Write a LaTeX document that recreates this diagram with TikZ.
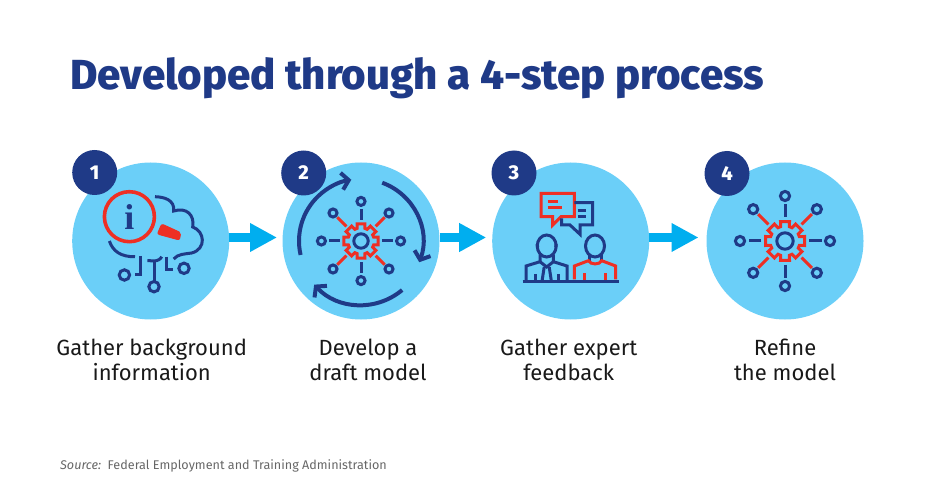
\documentclass[tikz,border=0pt]{standalone}
\usepackage{fontspec}
\setmainfont{Fira Sans}
\newfontfamily\serifi{Liberation Serif}
\newfontfamily\heavyface{Fira Sans ExtraBold}
\usetikzlibrary{positioning,arrows.meta}
\definecolor{navy}{HTML}{1F3A87}
\definecolor{skyfill}{HTML}{6BCFF8}
\definecolor{flowblue}{HTML}{00AEEF}
\definecolor{alertred}{HTML}{EE2F24}
\definecolor{srcgray}{HTML}{666666}
\tikzset{
  stepdisc/.style={circle,fill=skyfill,minimum size=157pt,inner sep=0pt,outer sep=0pt},
  badge/.style={circle,fill=navy,text=white,minimum size=45pt,inner sep=0pt,font=\heavyface\fontsize{20}{20}\selectfont},
  caption/.style={align=center,inner sep=0pt,text=black!90,font=\fontsize{22}{25}\selectfont},
  flow/.style={draw=flowblue,line width=9.5pt,-{Triangle[length=27pt,width=27pt]}},
  navyline/.style={draw=navy,line width=3pt},
  redline/.style={draw=alertred,line width=3pt},
  pics/gearnet/.style={code={
    \foreach \a in {0,90,180,270} {
      \draw[navyline] (\a:24) -- (\a:36.5);
      \draw[navyline] (\a:45) circle (4.6);
      \draw[redline] (\a+45:23.5) -- (\a+45:38);
      \draw[navyline] (\a+45:45) circle (4.6);
    }
    \draw[navyline] (0,0) circle (8.2);
    \draw[redline,line join=miter] (-13:20) foreach \a in {0,45,...,315} {-- (\a-13:20) -- (\a+13:20) -- (\a+17:15) -- (\a+28:15)} -- cycle;
  }},
  pics/cyclearrows/.style={code={
    \draw[draw=navy,line width=4pt,-{Straight Barb[length=7pt,width=17pt]}] (193:62) arc[start angle=193,end angle=99,radius=62];
    \draw[draw=navy,line width=4pt,-{Straight Barb[length=7pt,width=17pt]}] (70:62) arc[start angle=70,end angle=-20,radius=62];
    \draw[draw=navy,line width=4pt,-{Straight Barb[length=7pt,width=17pt]}] (-50:64) arc[start angle=-50,end angle=-137,radius=64];
  }},
  pics/lookupicon/.style={code={
    \draw[navyline] (4.3,44.3) .. controls (14,44) and (24,41) .. (23,30)
      .. controls (36,34) and (44,26) .. (42,14)
      .. controls (54,10) and (56,-8) .. (41,-12) .. controls (34,-13) and (27,-13) .. (23,-18);
    \draw[navyline] (-41.3,0) .. controls (-38,-10) and (-30,-16) .. (-15.7,-15.7);
    \draw[navyline] (-10.7,-15) -- (-10.7,-34) -- (-15.7,-34);
    \draw[navyline] (-26.3,-34) circle (5.2);
    \draw[navyline] (-3.3,-19.5) -- (3,-20) .. controls (7,-20) and (10,-18) .. (11,-15.7);
    \draw[navyline] (3.3,-20.7) -- (3.3,-39.7);
    \draw[navyline] (3.3,-45.7) circle (5.2);
    \draw[navyline] (16,-15.7) -- (16,-28.3) -- (22.7,-28.3);
    \draw[navyline] (33.3,-27.3) circle (5.2);
    \draw[draw=alertred,line width=3.6pt] (-21.3,24.3) circle (25);
    \filldraw[fill=alertred,draw=alertred,line width=1pt,rounded corners=2pt] (11,17) -- (30,8.3) -- (28.7,1) -- (6.7,7) -- cycle;
    \node[text=navy,inner sep=0pt,font=\serifi\fontsize{36}{36}\selectfont\bfseries] (infomark) at (-21.3,24.3) {i};
  }},
  pics/feedbackicon/.style={code={
    \draw[redline] (-29.7,47.7) -- (3.7,47.7) -- (3.7,24.3) -- (-9.7,24.3) -- (-18,16) -- (-18,24.3) -- (-29.7,24.3) -- cycle;
    \draw[redline] (-23,39) -- (-13,39) (-23,33.3) -- (-8.3,33.3);
    \draw[navyline] (3.7,38.3) -- (22,38.3) -- (22,16) -- (9.3,16) -- (9.3,6.7) -- (-0.7,16) -- (-9,16) -- (-9,22.7);
    \draw[navyline] (7,30) -- (15,30) (7,24.3) -- (15,24.3);
    \draw[navyline] (-24,-5) ellipse (9.5 and 11);
    \draw[navyline] (-33.5,-3) -- (-33,-6) (-14.5,-3) -- (-15,-6);
    \draw[navyline] (-44.7,-39) -- (-44.7,-25) -- (-30.7,-20.7) -- (-30.7,-14) (-3.7,-39) -- (-3.7,-25) -- (-17.3,-20.7) -- (-17.3,-14);
    \draw[navyline] (-30.7,-20.7) -- (-24,-26) -- (-17.3,-20.7);
    \draw[navyline] (-26.5,-26) -- (-28.5,-39) (-21.5,-26) -- (-19.5,-39);
    \draw[navyline] (-35.7,-33) -- (-35.7,-39) (-12.3,-33) -- (-12.3,-39);
    \draw[navyline] (24.3,-5) ellipse (9.5 and 11);
    \draw[navyline] (18.3,-14) -- (18.3,-19.7) (31,-14) -- (31,-19.7);
    \draw[redline] (3.7,-38.3) -- (3.7,-25) -- (17.7,-19.7) .. controls (20,-24) and (29,-24) .. (31,-19.7) -- (45,-25) -- (45,-38.3);
    \draw[redline] (13.3,-32.3) -- (13.3,-39) (35,-32.3) -- (35,-39);
    \draw[navyline] (-48,-40) -- (48.3,-40);
  }}
}
\begin{document}
\begin{tikzpicture}[x=1pt,y=1pt]
\useasboundingbox (0,0) rectangle (936,493);

\node[anchor=base west,inner sep=0pt,text=navy,font=\heavyface\fontsize{42}{42}\selectfont] (headline) at (70,403) {Developed through a 4-step process};

\node[stepdisc] (step1) at (150.7,252) {};
\node[stepdisc,right=53.3pt of step1] (step2) {};
\node[stepdisc,right=52.7pt of step2] (step3) {};
\node[stepdisc,right=57.3pt of step3] (step4) {};

\node[badge] (badge1) at ([shift={(-56,68.5)}]step1.center) {1};
\node[badge] (badge2) at ([shift={(-57.3,68)}]step2.center) {2};
\node[badge] (badge3) at ([shift={(-56.7,68)}]step3.center) {3};
\node[badge] (badge4) at ([shift={(-58,67.5)}]step4.center) {4};

\draw[flow] ([yshift=3.5pt]step1.east) -- ([yshift=3.5pt,xshift=-5.5pt]step2.west);
\draw[flow] ([yshift=3.5pt]step2.east) -- ([yshift=3.5pt,xshift=-6pt]step3.west);
\draw[flow] ([yshift=3.5pt]step3.east) -- ([yshift=3.5pt,xshift=-8pt]step4.west);

\pic at (step1.center) {lookupicon};
\pic[scale=.88] at (step2.center) {gearnet};
\pic at (step2.center) {cyclearrows};
\pic at (step3.center) {feedbackicon};
\pic at (step4.center) {gearnet};

\node[caption,below=19pt of step1,xshift=1pt] (label1) {Gather background\\information};
\node[caption,below=19pt of step2,xshift=7pt] (label2) {Develop a\\draft model};
\node[caption,below=19pt of step3,xshift=-2pt] (label3) {Gather expert\\feedback};
\node[caption,below=19pt of step4] (label4) {Refine\\the model};

\node[anchor=base west,inner sep=0pt,text=srcgray,font=\fontsize{12.6}{13}\selectfont] (source) at (60,24) {\textit{Source:}\, Federal Employment and Training Administration};
\end{tikzpicture}
\end{document}
